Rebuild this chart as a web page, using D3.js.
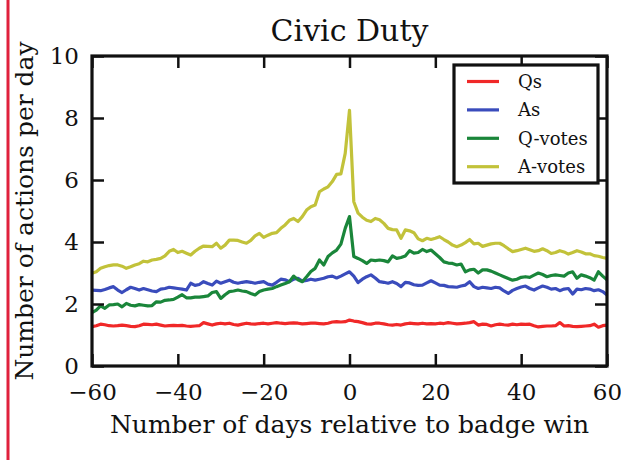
<!DOCTYPE html>
<meta charset="utf-8">
<style>
  body { margin: 0; background: #fff; }
  text { font-family: "DejaVu Serif", "Liberation Serif", serif; fill: #111; }
  .series { fill: none; stroke-width: 3.2px; stroke-linejoin: round; }
</style>
<body>
<script src="https://d3js.org/d3.v7.min.js"></script>
<script>

var days = d3.range(-60, 61);

var qs = [
  1.27, 1.30, 1.35, 1.33, 1.30, 1.29, 1.30, 1.32, 1.30, 1.28,
  1.27, 1.30, 1.35, 1.34, 1.33, 1.35, 1.32, 1.29, 1.30, 1.31,
  1.30, 1.31, 1.29, 1.28, 1.29, 1.30, 1.40, 1.36, 1.32, 1.36,
  1.38, 1.36, 1.38, 1.34, 1.32, 1.35, 1.38, 1.36, 1.35, 1.37,
  1.38, 1.36, 1.38, 1.40, 1.38, 1.37, 1.38, 1.39, 1.38, 1.36,
  1.37, 1.38, 1.38, 1.37, 1.36, 1.38, 1.42, 1.43, 1.42, 1.43,
  1.48, 1.45, 1.43, 1.40, 1.36, 1.35, 1.38, 1.38, 1.36, 1.33,
  1.32, 1.34, 1.32, 1.36, 1.38, 1.37, 1.36, 1.38, 1.36, 1.37,
  1.36, 1.38, 1.37, 1.40, 1.38, 1.36, 1.37, 1.38, 1.40, 1.43,
  1.32, 1.35, 1.34, 1.29, 1.33, 1.35, 1.33, 1.32, 1.35, 1.33,
  1.35, 1.34, 1.35, 1.30, 1.26, 1.28, 1.29, 1.29, 1.30, 1.40,
  1.29, 1.30, 1.28, 1.27, 1.28, 1.29, 1.30, 1.35, 1.25, 1.30, 1.32
];

var as = [
  2.45, 2.44, 2.43, 2.47, 2.52, 2.56, 2.45, 2.37, 2.46, 2.54,
  2.50, 2.45, 2.50, 2.46, 2.42, 2.40, 2.48, 2.50, 2.54, 2.52,
  2.50, 2.48, 2.45, 2.67, 2.60, 2.63, 2.72, 2.66, 2.61, 2.74,
  2.67, 2.72, 2.77, 2.70, 2.67, 2.70, 2.72, 2.70, 2.67, 2.70,
  2.72, 2.64, 2.61, 2.70, 2.80, 2.78, 2.72, 2.80, 2.83, 2.74,
  2.76, 2.80, 2.77, 2.80, 2.83, 2.88, 2.90, 2.84, 2.90, 2.97,
  3.04, 2.90, 2.69, 2.80, 2.88, 2.94, 2.84, 2.72, 2.70, 2.67,
  2.72, 2.66, 2.56, 2.70, 2.68, 2.62, 2.60, 2.61, 2.68, 2.75,
  2.68, 2.61, 2.60, 2.56, 2.55, 2.54, 2.58, 2.61, 2.72, 2.56,
  2.50, 2.54, 2.52, 2.50, 2.54, 2.52, 2.42, 2.34, 2.44, 2.50,
  2.55, 2.58, 2.50, 2.45, 2.52, 2.58, 2.54, 2.48, 2.50, 2.43,
  2.48, 2.50, 2.32, 2.48, 2.46, 2.50, 2.48, 2.43, 2.46, 2.40, 2.29
];

var qVotes = [
  1.72, 1.80, 1.94, 1.86, 1.97, 1.98, 2.00, 1.91, 2.02, 1.96,
  1.94, 1.98, 1.96, 1.94, 1.95, 2.07, 2.06, 2.12, 2.13, 2.15,
  2.22, 2.30, 2.20, 2.20, 2.22, 2.22, 2.24, 2.26, 2.37, 2.40,
  2.18, 2.30, 2.40, 2.42, 2.45, 2.42, 2.40, 2.34, 2.29, 2.40,
  2.45, 2.48, 2.50, 2.56, 2.61, 2.66, 2.72, 2.90, 2.78, 2.72,
  2.88, 3.05, 3.15, 3.42, 3.26, 3.53, 3.65, 3.74, 3.93, 4.44,
  4.82, 3.53, 3.47, 3.40, 3.31, 3.42, 3.40, 3.42, 3.40, 3.36,
  3.55, 3.47, 3.50, 3.55, 3.72, 3.64, 3.66, 3.76, 3.69, 3.74,
  3.62, 3.50, 3.36, 3.32, 3.31, 3.26, 3.29, 3.04, 3.10, 3.12,
  3.00, 3.10, 3.10, 3.06, 3.00, 2.94, 2.88, 2.82, 2.77, 2.80,
  2.86, 2.88, 2.86, 2.93, 3.00, 2.95, 2.88, 2.92, 2.94, 2.92,
  2.90, 3.00, 3.04, 2.83, 2.94, 2.90, 2.85, 2.77, 3.04, 2.90, 2.78
];

var aVotes = [
  2.99, 3.04, 3.15, 3.20, 3.24, 3.26, 3.26, 3.22, 3.15, 3.20,
  3.26, 3.30, 3.38, 3.36, 3.42, 3.44, 3.47, 3.55, 3.70, 3.76,
  3.66, 3.70, 3.64, 3.58, 3.70, 3.80, 3.87, 3.86, 3.85, 3.96,
  3.80, 3.90, 4.06, 4.06, 4.05, 4.00, 3.96, 4.05, 4.20, 4.28,
  4.15, 4.22, 4.28, 4.30, 4.44, 4.55, 4.70, 4.76, 4.66, 4.82,
  5.03, 5.14, 5.19, 5.62, 5.71, 5.78, 5.95, 6.18, 6.20, 6.86,
  8.25, 5.30, 4.93, 4.80, 4.70, 4.66, 4.76, 4.72, 4.60, 4.44,
  4.40, 4.39, 4.12, 4.39, 4.36, 4.30, 4.10, 4.04, 4.12, 4.08,
  4.12, 4.17, 4.08, 4.00, 3.90, 3.85, 3.90, 3.98, 4.08, 3.94,
  3.96, 3.86, 3.90, 3.94, 3.96, 3.96, 3.88, 3.78, 3.69, 3.72,
  3.76, 3.80, 3.75, 3.70, 3.72, 3.78, 3.72, 3.63, 3.66, 3.72,
  3.68, 3.61, 3.66, 3.72, 3.68, 3.62, 3.62, 3.56, 3.54, 3.50, 3.47
];

var seriesNames = ["Qs", "As", "Q-votes", "A-votes"];
var seriesColors = ["#f02828", "#3a4cbc", "#1a863a", "#c2c23a"];
var seriesValues = [qs, as, qVotes, aVotes];

var xTicks = [-60, -40, -20, 0, 20, 40, 60];
var yTicks = [0, 2, 4, 6, 8, 10];

var width = 621,
    height = 460,
    margin = {top: 56, right: 14, bottom: 94, left: 92};

var svg = d3.select("body").append("svg")
    .attr("width", width)
    .attr("height", height);

// red rule at the page edge
svg.append("line")
    .attr("x1", 8).attr("x2", 8)
    .attr("y1", 0).attr("y2", height)
    .attr("stroke", "#e0203c")
    .attr("stroke-width", 3);

var x = d3.scaleLinear()
    .domain([-60, 60])
    .range([margin.left, width - margin.right]);

var y = d3.scaleLinear()
    .domain([0, 10])
    .range([height - margin.bottom, margin.top]);

var line = d3.line()
    .x(function(d) { return x(d[0]); })
    .y(function(d) { return y(d[1]); });

var g = svg.append("g");

seriesValues.forEach(function(vals, i) {
  g.append("path")
      .datum(days.map(function(d, j) { return [d, vals[j]]; }))
      .attr("class", "series")
      .attr("stroke", seriesColors[i])
      .attr("d", line);
});

// axes: ticks point inward on all four sides
function styleAxis(sel) {
  sel.select(".domain").remove();
  sel.selectAll(".tick line").attr("stroke", "#111").attr("stroke-width", 2.5);
}

svg.append("g")
    .attr("transform", "translate(0," + y(0) + ")")
    .call(d3.axisBottom(x).tickValues(xTicks).tickSizeInner(-12).tickPadding(18)
      .tickFormat(function(d) { return d < 0 ? "\u2212" + (-d) : d; }))
    .call(styleAxis)
    .selectAll("text")
      .style("font-size", "23px")
      .attr("fill", "#111");

svg.append("g")
    .attr("transform", "translate(0," + y(10) + ")")
    .call(d3.axisTop(x).tickValues(xTicks).tickSizeInner(-12).tickFormat(""))
    .call(styleAxis);

svg.append("g")
    .attr("transform", "translate(" + x(-60) + ",0)")
    .call(d3.axisLeft(y).tickValues(yTicks).tickSizeInner(-12).tickPadding(13))
    .call(styleAxis)
    .selectAll("text")
      .style("font-size", "23px")
      .attr("fill", "#111");

svg.append("g")
    .attr("transform", "translate(" + x(60) + ",0)")
    .call(d3.axisRight(y).tickValues(yTicks).tickSizeInner(-12).tickFormat(""))
    .call(styleAxis);

svg.append("rect")
    .attr("x", x(-60))
    .attr("y", y(10))
    .attr("width", x(60) - x(-60))
    .attr("height", y(0) - y(10))
    .attr("fill", "none")
    .attr("stroke", "#111")
    .attr("stroke-width", 3.2);

// title and axis labels
svg.append("text")
    .attr("x", (x(-60) + x(60)) / 2)
    .attr("y", 41)
    .attr("text-anchor", "middle")
    .style("font-size", "30px")
    .text("Civic Duty");

svg.append("text")
    .attr("x", (x(-60) + x(60)) / 2)
    .attr("y", 433)
    .attr("text-anchor", "middle")
    .style("font-size", "25px")
    .text("Number of days relative to badge win");

svg.append("text")
    .attr("transform", "translate(33," + ((y(0) + y(10)) / 2) + ") rotate(-90)")
    .attr("text-anchor", "middle")
    .style("font-size", "25px")
    .text("Number of actions per day");

// legend
var legend = svg.append("g");

legend.append("rect")
    .attr("x", 454).attr("y", 65)
    .attr("width", 144).attr("height", 118)
    .attr("fill", "#fff")
    .attr("stroke", "#111")
    .attr("stroke-width", 3.2);

seriesNames.forEach(function(name, i) {
  var ly = 81.5 + i * 28.4;
  legend.append("line")
      .attr("x1", 467).attr("x2", 499)
      .attr("y1", ly).attr("y2", ly)
      .attr("stroke", seriesColors[i])
      .attr("stroke-width", 3.2);
  legend.append("text")
      .attr("x", 518).attr("y", ly)
      .attr("dy", "0.35em")
      .style("font-size", "18px")
      .text(name);
});

</script>
</body>
